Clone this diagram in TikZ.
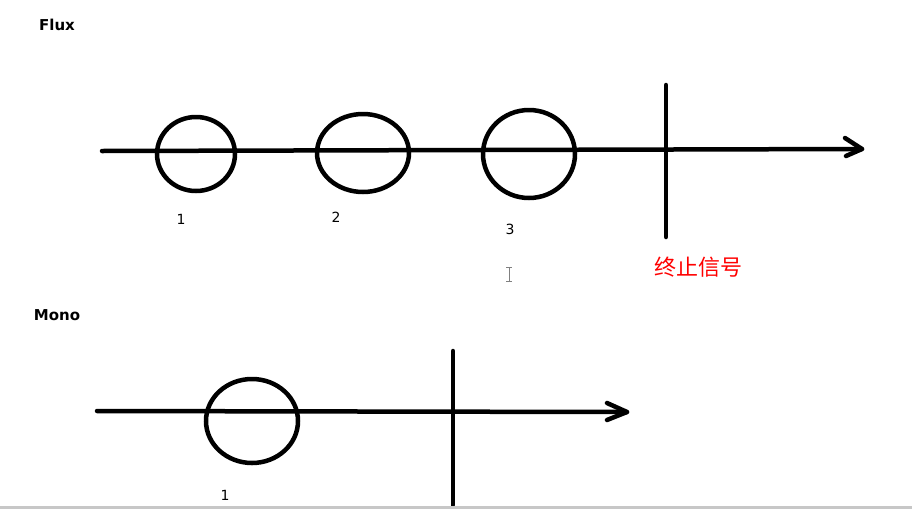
\documentclass[tikz,border=0pt]{standalone}
\usepackage{fontspec}
\setmainfont{DejaVu Sans}
\newfontfamily\cjk{Noto Sans CJK SC}
\begin{document}
\begin{tikzpicture}[x=1pt,y=-1pt,
  stroke/.style={line width=4.5pt,black,line cap=round,line join=round},
  ring/.style={line width=4.5pt,black},
  title/.style={font=\fontsize{15}{17}\selectfont\bfseries,anchor=center,inner sep=0pt},
  num/.style={font=\fontsize{14}{16}\selectfont,anchor=center,inner sep=0pt}]
\useasboundingbox (0,0) rectangle (912,509);
\fill[white] (0,0) rectangle (912,509);
% Flux
\node[title] (flux) at (57,25) {Flux};
\coordinate (fa) at (102,151);
\coordinate (fb) at (862,149);
\draw[stroke] (fa) -- (fb);
\draw[stroke] (845,138) -- (fb) -- (846,156);
\draw[ring] (196,154) ellipse [x radius=39, y radius=37];
\draw[ring] (363,153) ellipse [x radius=46, y radius=39];
\draw[ring] (529,154) ellipse [x radius=46, y radius=44];
\coordinate (ft) at (666,85);
\coordinate (fbt) at (666,237);
\draw[stroke] (ft) -- (fbt);
\node[num] (n1) at (181,219) {1};
\node[num] (n2) at (336,217) {2};
\node[num] (n3) at (510,229) {3};
\node[font=\cjk\fontsize{22}{24}\selectfont,text=red,inner sep=0pt] (stop) at (698,267) {终止信号};
% cursor
\draw[gray,line width=1pt] (509,267) -- (509,281) (506,267) -- (512,267) (506,281) -- (512,281);
% Mono
\node[title] (mono) at (57,315) {Mono};
\coordinate (ma) at (97,411);
\coordinate (mb) at (627,412);
\draw[stroke] (ma) -- (mb);
\draw[stroke] (607,403) -- (mb) -- (607,420);
\draw[ring] (252,421) ellipse [x radius=46, y radius=42];
\coordinate (mt) at (453,351);
\coordinate (mbt) at (453,505);
\draw[stroke] (mt) -- (mbt);
\node[num] (m1) at (225,495) {1};
\fill[black!22] (0,506) rectangle (912,509);
\end{tikzpicture}
\end{document}
